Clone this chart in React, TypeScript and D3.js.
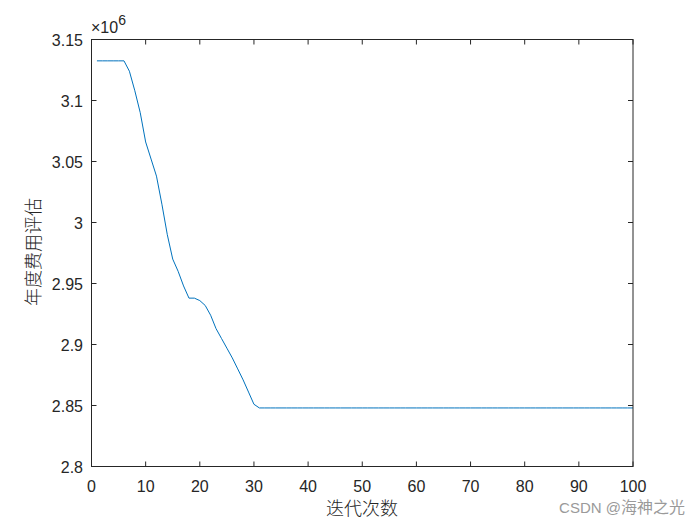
import React from "react";
import * as d3 from "d3";

const iterations: number[] = Array.from({ length: 100 }, (_, i) => i + 1);
const costHead: number[] = [
  3.1325, 3.1325, 3.1325, 3.1325, 3.1325, 3.1325, 3.124, 3.108, 3.09, 3.066,
  3.052, 3.038, 3.015, 2.99, 2.97, 2.96, 2.948, 2.938, 2.938, 2.936,
  2.932, 2.924, 2.913, 2.905, 2.897, 2.889, 2.88, 2.871, 2.861, 2.851,
  2.848,
];
const costTailValue = 2.848;
const cost: number[] = iterations.map((_, i) => (i < costHead.length ? costHead[i] : costTailValue));
const xTicks: number[] = [0, 10, 20, 30, 40, 50, 60, 70, 80, 90, 100];
const yTicks: number[] = [2.8, 2.85, 2.9, 2.95, 3, 3.05, 3.1, 3.15];
const yTickLabels: string[] = ["2.8", "2.85", "2.9", "2.95", "3", "3.05", "3.1", "3.15"];

export default function App() {
  const W = 700, H = 525;
  const left = 91.5, right = 633, top = 39.5, bottom = 466.5;
  const x = d3.scaleLinear().domain([0, 100]).range([left, right]);
  const y = d3.scaleLinear().domain([2.8, 3.15]).range([bottom, top]);
  const line = d3
    .line<number>()
    .x((_, i) => x(iterations[i]))
    .y((d) => y(d));
  const tl = 5;
  const font = "Arial, 'Liberation Sans', Helvetica, sans-serif";
  const cjk = "'Noto Sans CJK SC', sans-serif";
  return (
    <svg
      width={W}
      height={H}
      style={{ position: "absolute", left: 0, top: 0, background: "#fff" }}
    >
      <rect x={0} y={0} width={W} height={H} fill="#fff" />
      <path d={line(cost) || ""} fill="none" stroke="#0072BD" strokeWidth={1} />
      <rect x={left} y={top} width={right - left} height={bottom - top} fill="none" stroke="#262626" strokeWidth={1} />
      {xTicks.map((t) => (
        <g key={"x" + t}>
          <line x1={x(t)} x2={x(t)} y1={bottom} y2={bottom - tl} stroke="#262626" />
          <line x1={x(t)} x2={x(t)} y1={top} y2={top + tl} stroke="#262626" />
          <text x={x(t)} y={492} textAnchor="middle" fontFamily={font} fontSize={16} fill="#262626">
            {t}
          </text>
        </g>
      ))}
      {yTicks.map((t, i) => (
        <g key={"y" + t}>
          <line x1={left} x2={left + tl} y1={y(t)} y2={y(t)} stroke="#262626" />
          <line x1={right} x2={right - tl} y1={y(t)} y2={y(t)} stroke="#262626" />
          <text x={83} y={y(t) + 6} textAnchor="end" fontFamily={font} fontSize={16} fill="#262626">
            {yTickLabels[i]}
          </text>
        </g>
      ))}
      <text x={91} y={33} fontFamily={font} fill="#262626" style={{ fontSize: "16px" }}>
        <tspan style={{ fontSize: "16px" }}>×10</tspan>
        <tspan dy={-8} style={{ fontSize: "14px" }}>6</tspan>
      </text>
      <text x={362} y={515} textAnchor="middle" fontFamily={cjk} fontSize={18} fontWeight={300} fill="#262626">
        迭代次数
      </text>
      <text
        transform={`translate(40, ${(top + bottom) / 2 - 1}) rotate(-90)`}
        textAnchor="middle"
        fontFamily={cjk}
        fontSize={18}
        fontWeight={300}
        fill="#262626"
      >
        年度费用评估
      </text>
      <text x={685} y={513} textAnchor="end" fontFamily={cjk} fontSize={16} fill="#9a9a9a">
        <tspan fontFamily={font} fontSize={15}>CSDN @</tspan>海神之光
      </text>
    </svg>
  );
}
